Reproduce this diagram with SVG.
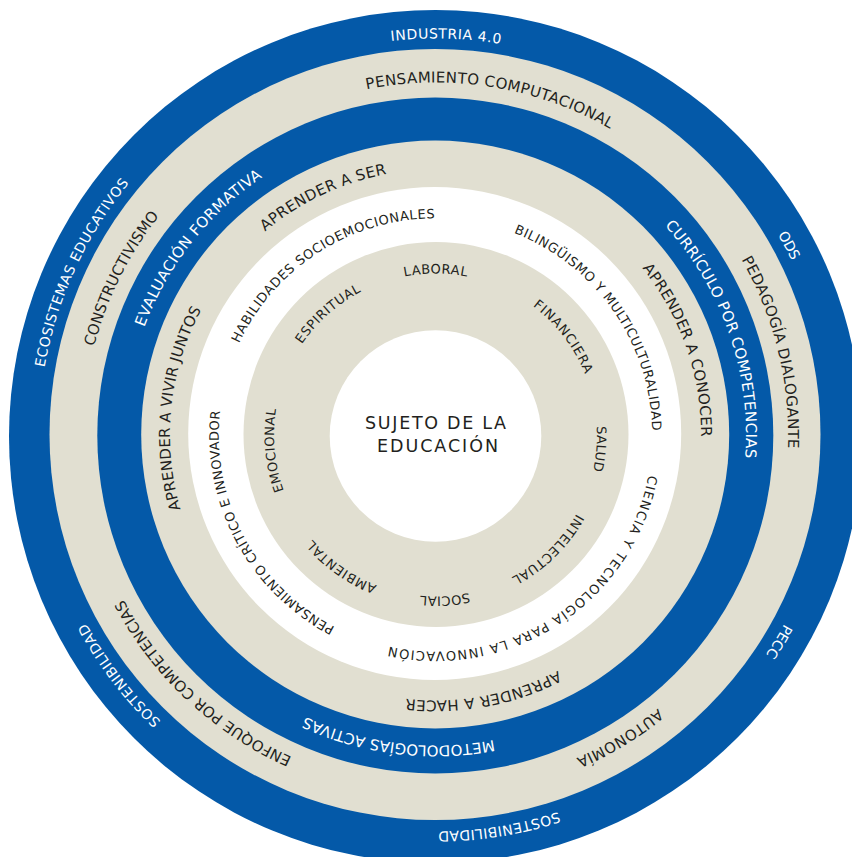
<svg xmlns="http://www.w3.org/2000/svg" xmlns:xlink="http://www.w3.org/1999/xlink" width="852" height="857" viewBox="0 0 852 857">
<style>
.blue{fill:#0459a8}
.beige{fill:#e1dfd1}
.white{fill:#ffffff}
text{font-family:"DejaVu Sans","Liberation Sans",sans-serif;text-anchor:middle}
.w{fill:#ffffff}
.d{fill:#231f20}
.fa{font-size:14px}
.fb{font-size:15px}
.fe{font-size:13px}
.fc{font-size:17.5px}
</style>
<defs>
<path id="pA" d="M435.5 38.5A396.5 396.5 0 1 1 435.5 831.5A396.5 396.5 0 1 1 435.5 38.5A396.5 396.5 0 1 1 435.5 831.5A396.5 396.5 0 1 1 435.5 38.5"/>
<path id="pB" d="M435.5 82.5A352.5 352.5 0 1 1 435.5 787.5A352.5 352.5 0 1 1 435.5 82.5A352.5 352.5 0 1 1 435.5 787.5A352.5 352.5 0 1 1 435.5 82.5"/>
<path id="pC" d="M435.5 124.5A310.5 310.5 0 1 1 435.5 745.5A310.5 310.5 0 1 1 435.5 124.5A310.5 310.5 0 1 1 435.5 745.5A310.5 310.5 0 1 1 435.5 124.5"/>
<path id="pD" d="M435.5 169.5A265.5 265.5 0 1 1 435.5 700.5A265.5 265.5 0 1 1 435.5 169.5A265.5 265.5 0 1 1 435.5 700.5A265.5 265.5 0 1 1 435.5 169.5"/>
<path id="pE" d="M435.5 218.3A216.7 216.7 0 1 1 435.5 651.7A216.7 216.7 0 1 1 435.5 218.3A216.7 216.7 0 1 1 435.5 651.7A216.7 216.7 0 1 1 435.5 218.3"/>
<path id="pF" d="M435.5 273.5A161.5 161.5 0 1 1 435.5 596.5A161.5 161.5 0 1 1 435.5 273.5A161.5 161.5 0 1 1 435.5 596.5A161.5 161.5 0 1 1 435.5 273.5"/>
</defs>

<g id="ring-outer">
<circle class="blue" cx="435.5" cy="436.5" r="426.5"/>
</g>
<g id="ring-2">
<circle class="beige" cx="435" cy="434.5" r="385.5"/>
</g>
<g id="ring-3">
<circle class="blue" cx="435.3" cy="435.5" r="338"/>
</g>
<g id="ring-4">
<circle class="beige" cx="435.2" cy="434.5" r="294"/>
</g>
<g id="ring-5">
<circle class="white" cx="434.7" cy="433.5" r="246.5"/>
</g>
<g id="ring-6">
<circle class="beige" cx="436" cy="434.5" r="192.5"/>
</g>
<g id="center">
<circle class="white" cx="435.5" cy="436" r="105.8"/>
<text class="d fc" x="435.5" y="429" textLength="141" lengthAdjust="spacing">SUJETO DE LA</text>
<text class="d fc" x="437.5" y="452" textLength="121" lengthAdjust="spacing">EDUCACIÓN</text>
</g>

<g id="labels-outer" class="w fa">
<text><textPath href="#pA" startOffset="50.21%" textLength="110" lengthAdjust="spacing">INDUSTRIA 4.0</textPath></text>
<text><textPath href="#pA" startOffset="58.58%" textLength="30" lengthAdjust="spacing">ODS</textPath></text>
<text><textPath href="#pA" startOffset="66.81%" textLength="36" lengthAdjust="spacing">PECC</textPath></text>
<text><textPath href="#pA" startOffset="73.72%" textLength="122" lengthAdjust="spacing">SOSTENIBILIDAD</textPath></text>
<text><textPath href="#pA" startOffset="32.33%" textLength="124" lengthAdjust="spacing">SOSTENIBILIDAD</textPath></text>
<text><textPath href="#pA" startOffset="40.92%" textLength="205" lengthAdjust="spacing">ECOSISTEMAS EDUCATIVOS</textPath></text>
</g>

<g id="labels-2" class="d fb">
<text><textPath href="#pB" startOffset="51.28%" textLength="252" lengthAdjust="spacing">PENSAMIENTO COMPUTACIONAL</textPath></text>
<text><textPath href="#pB" startOffset="60.58%" textLength="197" lengthAdjust="spacing">PEDAGOGÍA DIALOGANTE</textPath></text>
<text><textPath href="#pB" startOffset="70.65%" textLength="96" lengthAdjust="spacing">AUTONOMÍA</textPath></text>
<text><textPath href="#pB" startOffset="30.99%" textLength="235" lengthAdjust="spacing">ENFOQUE POR COMPETENCIAS</textPath></text>
<text><textPath href="#pB" startOffset="41.18%" textLength="147" lengthAdjust="spacing">CONSTRUCTIVISMO</textPath></text>
</g>

<g id="labels-3" class="w fb">
<text><textPath href="#pC" startOffset="59.85%" textLength="253" lengthAdjust="spacing">CURRÍCULO POR COMPETENCIAS</textPath></text>
<text><textPath href="#pC" startOffset="25.97%" textLength="193" lengthAdjust="spacing">METODOLOGÍAS ACTIVAS</textPath></text>
<text><textPath href="#pC" startOffset="42.81%" textLength="194" lengthAdjust="spacing">EVALUACIÓN FORMATIVA</textPath></text>
</g>

<g id="labels-4" class="d fb">
<text><textPath href="#pD" startOffset="59.82%" textLength="182" lengthAdjust="spacing">APRENDER A CONOCER</textPath></text>
<text><textPath href="#pD" startOffset="73.54%" textLength="157" lengthAdjust="spacing">APRENDER A HACER</textPath></text>
<text><textPath href="#pD" startOffset="38.33%" textLength="206" lengthAdjust="spacing">APRENDER A VIVIR JUNTOS</textPath></text>
<text><textPath href="#pD" startOffset="46.49%" textLength="136" lengthAdjust="spacing">APRENDER A SER</textPath></text>
</g>

<g id="labels-5" class="d fe">
<text><textPath href="#pE" startOffset="57.64%" textLength="256" lengthAdjust="spacing">BILINGÜISMO Y MULTICULTURALIDAD</textPath></text>
<text><textPath href="#pE" startOffset="70.35%" textLength="347" lengthAdjust="spacing">CIENCIA Y TECNOLOGÍA PARA LA INNOVACIÓN</textPath></text>
<text><textPath href="#pE" startOffset="33.61%" textLength="260" lengthAdjust="spacing">PENSAMIENTO CRÍTICO E INNOVADOR</textPath></text>
<text><textPath href="#pE" startOffset="45.47%" textLength="245" lengthAdjust="spacing">HABILIDADES SOCIOEMOCIONALES</textPath></text>
</g>

<g id="labels-6" class="d fe">
<text><textPath href="#pF" startOffset="50%" textLength="63" lengthAdjust="spacing">LABORAL</textPath></text>
<text><textPath href="#pF" startOffset="57.28%" textLength="87" lengthAdjust="spacing">FINANCIERA</textPath></text>
<text><textPath href="#pF" startOffset="63.17%" textLength="45" lengthAdjust="spacing">SALUD</textPath></text>
<text><textPath href="#pF" startOffset="68.82%" textLength="92" lengthAdjust="spacing">INTELECTUAL</textPath></text>
<text><textPath href="#pF" startOffset="74.54%" textLength="49" lengthAdjust="spacing">SOCIAL</textPath></text>
<text><textPath href="#pF" startOffset="29.92%" textLength="80" lengthAdjust="spacing">AMBIENTAL</textPath></text>
<text><textPath href="#pF" startOffset="36.74%" textLength="83" lengthAdjust="spacing">EMOCIONAL</textPath></text>
<text><textPath href="#pF" startOffset="44.22%" textLength="80" lengthAdjust="spacing">ESPIRITUAL</textPath></text>
</g>
</svg>
